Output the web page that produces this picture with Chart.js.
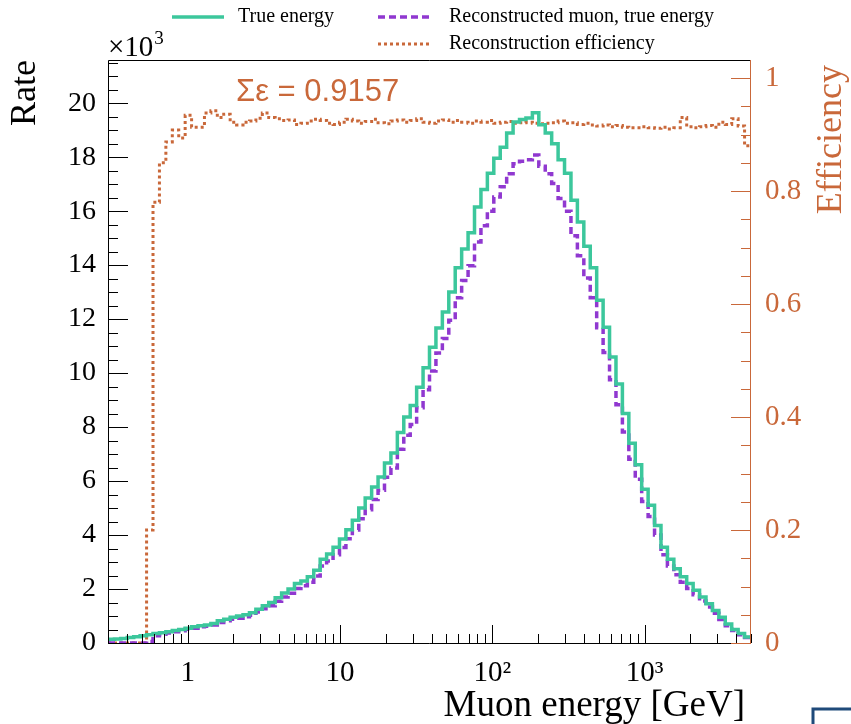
<!DOCTYPE html>
<html>
<head>
<meta charset="utf-8">
<script src="https://cdn.jsdelivr.net/npm/chart.js@4.4.1/dist/chart.umd.min.js"></script>
<style>
html, body { margin: 0; padding: 0; background: #fff; }
</style>
</head>
<body>
<canvas id="myChart" width="851" height="724"></canvas>
<script>
// muon energy histogram: 100 log bins between 0.3 and 5000 GeV
const eMin = 0.3
const eMax = 5000
const nBins = 100

// rate per bin, in units of 10^3
const trueRate = [
	0.14, 0.15, 0.17, 0.2, 0.23, 0.27, 0.31, 0.35, 0.38, 0.42,
	0.46, 0.5, 0.55, 0.6, 0.64, 0.67, 0.72, 0.82, 0.88, 0.95,
	1.0, 1.05, 1.12, 1.25, 1.38, 1.5, 1.68, 1.85, 2.0, 2.2,
	2.3, 2.45, 2.7, 3.1, 3.3, 3.55, 3.85, 4.2, 4.55, 5.0,
	5.37, 5.78, 6.15, 6.67, 7.04, 7.8, 8.37, 8.8, 9.48, 10.2,
	10.96, 11.67, 12.26, 13.0, 13.9, 14.6, 15.2, 16.15, 16.8, 17.4,
	17.96, 18.37, 18.9, 19.3, 19.4, 19.45, 19.65, 19.2, 18.9, 18.5,
	17.9, 17.4, 16.4, 15.6, 14.7, 13.9, 12.7, 11.7, 10.6, 9.6,
	8.5, 7.4, 6.6, 5.7, 5.1, 4.35, 3.55, 3.1, 2.75, 2.45,
	2.2, 1.95, 1.7, 1.45, 1.2, 0.95, 0.7, 0.5, 0.35, 0.22,
]
const recoRate = [
	0, 0, 0, 0, 0, 0, 0.06, 0.27, 0.32, 0.37,
	0.42, 0.45, 0.51, 0.55, 0.6, 0.62, 0.67, 0.76, 0.82, 0.88,
	0.92, 0.97, 1.03, 1.15, 1.27, 1.38, 1.55, 1.7, 1.84, 2.02,
	2.12, 2.25, 2.48, 2.85, 3.04, 3.27, 3.54, 3.86, 4.19, 4.6,
	4.94, 5.32, 5.66, 6.14, 6.48, 7.18, 7.7, 8.1, 8.72, 9.38,
	10.08, 10.74, 11.28, 11.96, 12.79, 13.43, 13.98, 14.86, 15.46, 16.0,
	16.52, 16.9, 17.39, 17.76, 17.85, 17.9, 18.08, 17.66, 17.39, 17.02,
	16.47, 16.0, 15.09, 14.35, 13.52, 12.79, 11.68, 10.76, 9.75, 8.83,
	7.82, 6.81, 6.07, 5.24, 4.69, 4.0, 3.27, 2.85, 2.53, 2.25,
	2.02, 1.79, 1.56, 1.33, 1.1, 0.87, 0.64, 0.46, 0.31, 0.2,
]
const efficiency = [
	0, 0, 0, 0, 0, 0, 0.2, 0.78, 0.85, 0.887,
	0.908, 0.894, 0.934, 0.913, 0.913, 0.938, 0.942, 0.93, 0.936, 0.922,
	0.917, 0.922, 0.924, 0.929, 0.938, 0.93, 0.928, 0.925, 0.926, 0.918,
	0.92, 0.924, 0.927, 0.925, 0.92, 0.918, 0.922, 0.927, 0.924, 0.92,
	0.923, 0.927, 0.921, 0.919, 0.924, 0.926, 0.922, 0.925, 0.928, 0.922,
	0.92, 0.924, 0.926, 0.922, 0.925, 0.922, 0.92, 0.924, 0.922, 0.925,
	0.92, 0.922, 0.923, 0.92, 0.921, 0.922, 0.92, 0.919, 0.92, 0.921,
	0.924, 0.92, 0.921, 0.918, 0.92, 0.917, 0.915, 0.917, 0.914, 0.916,
	0.913, 0.912, 0.912, 0.914, 0.912, 0.911, 0.913, 0.91, 0.912, 0.93,
	0.914, 0.912, 0.914, 0.916, 0.913, 0.922, 0.918, 0.928, 0.915, 0.88,
]

const rateTicks = [0, 2, 4, 6, 8, 10, 12, 14, 16, 18, 20]
const effTicks = [0, 0.2, 0.4, 0.6, 0.8, 1]
const energyTicks = [1, 10, 100, 1000]
const energyLabels = ['1', '10', '10²', '10³']

const green = '#3cc79c'
const purple = '#9038d0'
const brown = '#c9683a'
const serif = '"Liberation Serif", "DejaVu Serif", serif'

// bin edges, equal width in log(E)
const edges = []
for (let k = 0; k <= nBins; k++) {
	edges.push(eMin * Math.pow(eMax / eMin, k / nBins))
}

function toSteps(vals) {
	const pts = vals.map((v, i) => ({ x: edges[i], y: v }))
	pts.push({ x: edges[nBins], y: vals[vals.length - 1] })
	return pts
}

const rootStyle = {
	id: 'rootStyle',
	afterDraw(chart) {
		const { ctx, chartArea: a, scales } = chart
		ctx.save()
		ctx.lineWidth = 1

		// frame
		ctx.strokeStyle = '#000'
		ctx.beginPath()
		ctx.moveTo(a.right, a.top + 0.5)
		ctx.lineTo(a.left + 0.5, a.top + 0.5)
		ctx.lineTo(a.left + 0.5, a.bottom + 0.5)
		ctx.lineTo(a.right, a.bottom + 0.5)
		ctx.stroke()

		// left ticks (major every 2, minor every 0.5)
		ctx.beginPath()
		for (let i = 0; i * 0.5 <= scales.y.max; i++) {
			const y = Math.round(scales.y.getPixelForValue(i * 0.5)) + 0.5
			const len = i % 4 === 0 ? 20 : 10
			ctx.moveTo(a.left, y)
			ctx.lineTo(a.left + len, y)
		}
		// x ticks, log
		for (let d = -1; d <= 3; d++) {
			for (let m = 1; m <= 9; m++) {
				const v = m * Math.pow(10, d)
				if (v < eMin || v > eMax) continue
				const x = Math.round(scales.x.getPixelForValue(v)) + 0.5
				const len = m === 1 ? 18 : 9
				ctx.moveTo(x, a.bottom)
				ctx.lineTo(x, a.bottom - len)
			}
		}
		ctx.stroke()

		// right axis in efficiency colour
		ctx.strokeStyle = brown
		ctx.beginPath()
		ctx.moveTo(a.right - 0.5, a.top)
		ctx.lineTo(a.right - 0.5, a.bottom + 1)
		for (let i = 0; i * 0.05 <= scales.y1.max; i++) {
			const y = Math.round(scales.y1.getPixelForValue(i * 0.05)) + 0.5
			const len = i % 4 === 0 ? 20 : 10
			ctx.moveTo(a.right, y)
			ctx.lineTo(a.right - len, y)
		}
		ctx.stroke()

		// axis titles
		ctx.fillStyle = '#000'
		ctx.font = '36px ' + serif
		ctx.textBaseline = 'middle'
		ctx.save()
		ctx.translate(26, a.top)
		ctx.rotate(-Math.PI / 2)
		ctx.textAlign = 'right'
		ctx.fillText('Rate', 0, 0)
		ctx.restore()

		ctx.save()
		ctx.fillStyle = brown
		ctx.translate(832, a.top + 5)
		ctx.rotate(-Math.PI / 2)
		ctx.textAlign = 'right'
		ctx.fillText('Efficiency', 0, 0)
		ctx.restore()

		ctx.textBaseline = 'alphabetic'
		ctx.textAlign = 'right'
		ctx.font = '37px ' + serif
		ctx.fillText('Muon energy [GeV]', a.right - 6, 716)

		// x10^3 multiplier
		ctx.textAlign = 'left'
		ctx.font = '29px ' + serif
		ctx.fillText('×10', a.left, 56)
		const w = ctx.measureText('×10').width
		ctx.font = '19px ' + serif
		ctx.fillText('3', a.left + w + 1, 44)

		ctx.fillStyle = brown
		ctx.font = '31px "Liberation Sans", Arial, sans-serif'
		ctx.fillText('Σε = 0.9157', 236, 101)

		// legend, two columns
		const items = [
			{ ds: chart.data.datasets[0], x: 172, y: 17 },
			{ ds: chart.data.datasets[1], x: 378, y: 17 },
			{ ds: chart.data.datasets[2], x: 378, y: 44 },
		]
		ctx.font = '20px ' + serif
		ctx.textBaseline = 'middle'
		items.forEach(it => {
			ctx.strokeStyle = it.ds.borderColor
			ctx.lineWidth = it.ds.borderWidth
			ctx.setLineDash(it.ds.borderDash || [])
			ctx.beginPath()
			ctx.moveTo(it.x, it.y)
			ctx.lineTo(it.x + 52, it.y)
			ctx.stroke()
			ctx.setLineDash([])
			ctx.fillStyle = '#000'
			ctx.fillText(it.ds.label, it.x + (it.x < 300 ? 66 : 71), it.y)
		})

		// corner of a neighbouring frame, bottom right
		ctx.strokeStyle = '#1f4a7a'
		ctx.lineWidth = 3
		ctx.beginPath()
		ctx.moveTo(813, 724)
		ctx.lineTo(813, 709)
		ctx.lineTo(851, 709)
		ctx.stroke()

		ctx.restore()
	},
}

const ctx = document.getElementById('myChart')

const myChart = new Chart(ctx, {
	type: 'line',
	data: {
		datasets: [
			{
				label: 'True energy',
				data: toSteps(trueRate),
				borderColor: green,
				borderWidth: 3.5,
				stepped: 'before',
				pointRadius: 0,
				yAxisID: 'y',
			},
			{
				label: 'Reconstructed muon, true energy',
				data: toSteps(recoRate),
				borderColor: purple,
				borderWidth: 3.5,
				borderDash: [7, 4],
				stepped: 'before',
				pointRadius: 0,
				yAxisID: 'y',
			},
			{
				label: 'Reconstruction efficiency',
				data: toSteps(efficiency),
				borderColor: brown,
				borderWidth: 3,
				borderDash: [3, 3],
				stepped: 'before',
				pointRadius: 0,
				yAxisID: 'y1',
			},
		],
	},
	options: {
		responsive: false,
		animation: false,
		layout: { padding: { top: 60 } },
		plugins: {
			legend: { display: false },
			tooltip: { enabled: false },
		},
		scales: {
			x: {
				type: 'logarithmic',
				min: eMin,
				max: eMax,
				grid: { display: false },
				border: { display: false },
				afterBuildTicks: s => { s.ticks = energyTicks.map(v => ({ value: v })) },
				afterFit: s => { s.height = 81 },
				ticks: {
					autoSkip: false,
					maxRotation: 0,
					padding: 5,
					color: '#000',
					font: { family: serif, size: 29 },
					callback: v => energyLabels[energyTicks.indexOf(v)],
				},
			},
			y: {
				type: 'linear',
				position: 'left',
				min: 0,
				max: 21.6,
				grid: { display: false },
				border: { display: false },
				afterBuildTicks: s => { s.ticks = rateTicks.map(v => ({ value: v })) },
				afterFit: s => { s.width = 108 },
				ticks: {
					padding: 4,
					color: '#000',
					font: { family: serif, size: 28 },
				},
			},
			y1: {
				type: 'linear',
				position: 'right',
				min: 0,
				max: 1.032,
				grid: { display: false },
				border: { display: false },
				afterBuildTicks: s => { s.ticks = effTicks.map(v => ({ value: v })) },
				afterFit: s => { s.width = 100 },
				ticks: {
					padding: 6,
					color: brown,
					font: { family: serif, size: 29 },
					callback: v => String(v),
				},
			},
		},
	},
	plugins: [rootStyle],
})
</script>
</body>
</html>
